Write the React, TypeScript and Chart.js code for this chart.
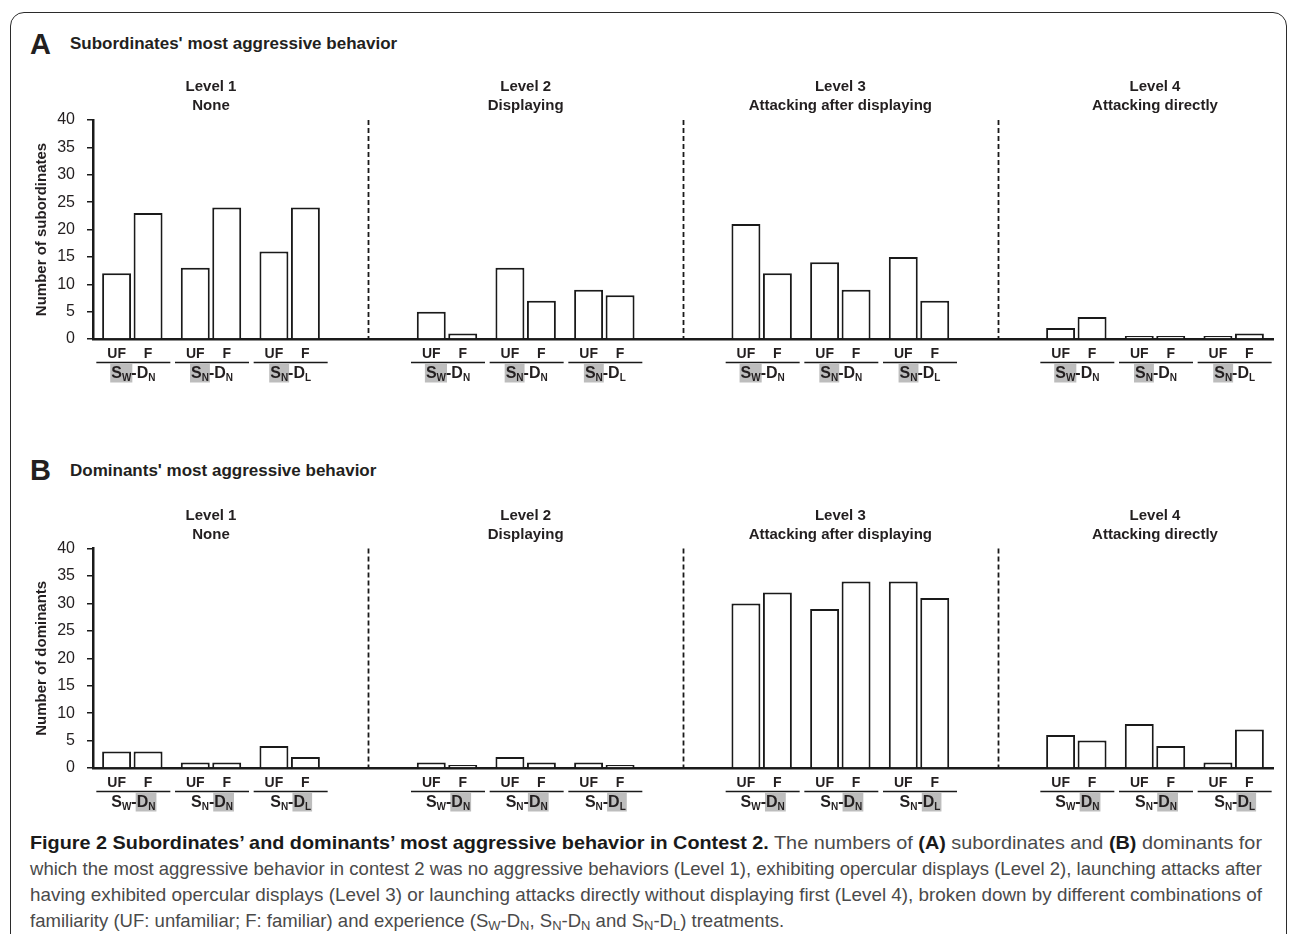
import React, { useEffect, useLayoutEffect, useRef } from 'react';
import { Chart, registerables } from 'chart.js';

Chart.register(...registerables);

// ---------- data ----------
const levelNames = ['Level 1', 'Level 2', 'Level 3', 'Level 4'];
const levelDescs = ['None', 'Displaying', 'Attacking after displaying', 'Attacking directly'];
const familiarityLabels = ['UF', 'F'];
const experienceS = ['W', 'N', 'N'];
const experienceD = ['N', 'N', 'L'];
// order: level 1 (SW-DN, SN-DN, SN-DL), level 2 (...), level 3 (...), level 4 (...)
const subordinatesUF = [12, 13, 16, 5, 13, 9, 21, 14, 15, 2, 0, 0];
const subordinatesF = [23, 24, 24, 1, 7, 8, 12, 9, 7, 4, 0, 1];
const dominantsUF = [3, 1, 4, 1, 2, 1, 30, 29, 34, 6, 8, 1];
const dominantsF = [3, 1, 2, 0, 1, 0, 32, 34, 31, 5, 4, 7];
const yMin = 0;
const yMax = 40;
const yStep = 5;

const FONT = '"Liberation Sans", Arial, Helvetica, sans-serif';
const INK = '#231f20';

// slots: each level has 3 treatment groups, with an empty spacer slot between levels
const slotLabels: string[] = [];
const slotGroup: number[] = [];
levelNames.forEach((_, L) => {
  experienceS.forEach((s, t) => {
    slotLabels.push(`S${s}-D${experienceD[t]}`);
    slotGroup.push(L * experienceS.length + t);
  });
  if (L < levelNames.length - 1) {
    slotLabels.push('');
    slotGroup.push(-1);
  }
});
const expand = (vals: number[]) => slotGroup.map((g) => (g < 0 ? null : vals[g]));

function decorPlugin(highlight: 'S' | 'D') {
  return {
    id: 'panelDecor',
    afterDraw(chart: any) {
      const { ctx, chartArea: a } = chart;
      const x = chart.scales.x;
      const m0 = chart.getDatasetMeta(0);
      const m1 = chart.getDatasetMeta(1);
      ctx.save();
      // dashed separators between levels
      ctx.strokeStyle = '#1a1a1a';
      ctx.lineWidth = 1.8;
      ctx.setLineDash([5, 3]);
      slotGroup.forEach((g, i) => {
        if (g >= 0) return;
        const px = Math.round(x.getPixelForValue(i)) + 0.5;
        ctx.beginPath();
        ctx.moveTo(px, a.top);
        ctx.lineTo(px, a.bottom);
        ctx.stroke();
      });
      ctx.setLineDash([]);
      // level titles
      ctx.fillStyle = INK;
      ctx.textAlign = 'center';
      ctx.textBaseline = 'middle';
      ctx.font = `bold 15px ${FONT}`;
      levelNames.forEach((name, L) => {
        const idx = slotGroup.indexOf(L * experienceS.length + 1);
        const px = x.getPixelForValue(idx);
        ctx.fillText(name, px, a.top - 33);
        ctx.fillText(levelDescs[L], px, a.top - 14);
      });
      // group labels
      slotGroup.forEach((g, i) => {
        if (g < 0) return;
        const t = g % experienceS.length;
        const b0 = m0.data[i];
        const b1 = m1.data[i];
        ctx.textBaseline = 'alphabetic';
        ctx.textAlign = 'center';
        ctx.fillStyle = INK;
        ctx.font = `bold 14px ${FONT}`;
        ctx.fillText(familiarityLabels[0], b0.x, a.bottom + 19);
        ctx.fillText(familiarityLabels[1], b1.x, a.bottom + 19);
        const cx = x.getPixelForValue(i);
        ctx.strokeStyle = '#1a1a1a';
        ctx.lineWidth = 1.3;
        ctx.beginPath();
        ctx.moveTo(cx - 36, a.bottom + 23.5);
        ctx.lineTo(cx + 38, a.bottom + 23.5);
        ctx.stroke();
        const segs = [
          { text: 'S', sub: false, hl: highlight === 'S' },
          { text: experienceS[t], sub: true, hl: highlight === 'S' },
          { text: '-', sub: false, hl: false },
          { text: 'D', sub: false, hl: highlight === 'D' },
          { text: experienceD[t], sub: true, hl: highlight === 'D' },
        ];
        const fontFor = (sub: boolean) => (sub ? `bold 10px ${FONT}` : `bold 16px ${FONT}`);
        const widths = segs.map((s) => {
          ctx.font = fontFor(s.sub);
          return ctx.measureText(s.text).width;
        });
        const total = widths.reduce((p, c) => p + c, 0);
        let sx = cx + 1 - total / 2;
        // highlight box
        let hx0 = Infinity;
        let hx1 = -Infinity;
        let cur = sx;
        segs.forEach((s, k) => {
          if (s.hl) {
            hx0 = Math.min(hx0, cur);
            hx1 = Math.max(hx1, cur + widths[k]);
          }
          cur += widths[k];
        });
        ctx.fillStyle = '#bdbdbd';
        ctx.fillRect(hx0 - 1, a.bottom + 24.5, hx1 - hx0 + 2, 19);
        ctx.fillStyle = INK;
        ctx.textAlign = 'left';
        segs.forEach((s, k) => {
          ctx.font = fontFor(s.sub);
          ctx.fillText(s.text, sx, a.bottom + (s.sub ? 42 : 39));
          sx += widths[k];
        });
      });
      ctx.restore();
    },
  };
}

type PanelProps = {
  top: number;
  height: number;
  padTop: number;
  axisH: number;
  uf: number[];
  f: number[];
  yTitle: string;
  highlight: 'S' | 'D';
};

function Panel({ top, height, padTop, axisH, uf, f, yTitle, highlight }: PanelProps) {
  const ref = useRef<HTMLCanvasElement>(null);
  useEffect(() => {
    const barStyle = {
      backgroundColor: '#ffffff',
      borderColor: '#1a1a1a',
      borderWidth: 2,
      borderSkipped: 'start' as const,
      categoryPercentage: 0.8,
      barPercentage: 0.92,
      minBarLength: 3,
      clip: 0,
    };
    const chart = new Chart(ref.current as HTMLCanvasElement, {
      type: 'bar',
      data: {
        labels: slotLabels,
        datasets: [
          { label: familiarityLabels[0], data: expand(uf), ...barStyle },
          { label: familiarityLabels[1], data: expand(f), ...barStyle },
        ],
      },
      options: {
        responsive: false,
        animation: false,
        layout: { padding: { top: padTop, right: 17, bottom: 0, left: 0 } },
        plugins: {
          legend: { display: false },
          tooltip: { enabled: false },
          title: { display: false },
        },
        scales: {
          x: {
            offset: true,
            ticks: { display: false },
            grid: { display: false, drawTicks: false },
            border: { display: true, width: 2.5, color: '#1a1a1a' },
            afterFit: (s: any) => {
              s.height = axisH;
            },
          },
          y: {
            min: yMin,
            max: yMax,
            ticks: {
              stepSize: yStep,
              padding: 12,
              color: INK,
              font: { family: FONT, size: 16 },
            },
            grid: {
              drawOnChartArea: false,
              drawTicks: true,
              tickLength: 6,
              color: '#1a1a1a',
              lineWidth: 1.5,
            },
            border: { display: true, width: 2.5, color: '#1a1a1a' },
            title: {
              display: true,
              text: yTitle,
              color: INK,
              font: { family: FONT, size: 15, weight: 'bold' },
              padding: { top: 33, bottom: 0 },
            },
            afterFit: (s: any) => {
              s.width = 93;
            },
          },
        },
      } as any,
      plugins: [decorPlugin(highlight)],
    });
    return () => chart.destroy();
  }, []);
  return (
    <canvas
      ref={ref}
      width={1290}
      height={height}
      style={{ position: 'absolute', left: 0, top, width: 1290, height, display: 'block' }}
    />
  );
}

const capBold: React.CSSProperties = { fontWeight: 'bold', color: '#1a1a1a' };
const sub: React.CSSProperties = { fontSize: '0.7em', verticalAlign: '-0.25em', lineHeight: 0 };

export default function App() {
  const capRefs = useRef<(HTMLSpanElement | null)[]>([]);
  useLayoutEffect(() => {
    const els = capRefs.current;
    const target = 1232;
    const w2 = els[1] ? els[1].getBoundingClientRect().width : target;
    const k2 = target / w2;
    els.forEach((el, i) => {
      if (!el) return;
      const w = el.getBoundingClientRect().width;
      const k = i < 3 ? target / w : k2;
      el.style.transformOrigin = '0 0';
      el.style.transform = `scaleX(${k})`;
    });
  }, []);
  const lineStyle: React.CSSProperties = {
    position: 'absolute',
    left: 30,
    display: 'inline-block',
    whiteSpace: 'nowrap',
    fontFamily: FONT,
    fontSize: 19,
    lineHeight: '26px',
    color: '#4a4a4a',
  };
  const setRef = (i: number) => (el: HTMLSpanElement | null) => {
    capRefs.current[i] = el;
  };
  return (
    <div
      style={{
        position: 'absolute',
        left: 0,
        top: 0,
        width: 1290,
        height: 934,
        overflow: 'hidden',
        background: '#fff',
      }}
    >
      <div
        style={{
          position: 'absolute',
          left: 10,
          top: 12,
          width: 1277,
          height: 940,
          border: '1.5px solid #2b2b2b',
          borderRadius: 14,
          boxSizing: 'border-box',
        }}
      />
      <div style={{ position: 'absolute', left: 30, top: 26, font: `bold 29px ${FONT}`, color: INK, lineHeight: '36px' }}>A</div>
      <div style={{ position: 'absolute', left: 70, top: 34, font: `bold 17px ${FONT}`, color: INK, lineHeight: '20px', whiteSpace: 'nowrap' }}>
        Subordinates' most aggressive behavior
      </div>
      <div style={{ position: 'absolute', left: 30, top: 452, font: `bold 29px ${FONT}`, color: INK, lineHeight: '36px' }}>B</div>
      <div style={{ position: 'absolute', left: 70, top: 461, font: `bold 17px ${FONT}`, color: INK, lineHeight: '20px', whiteSpace: 'nowrap' }}>
        Dominants' most aggressive behavior
      </div>
      <Panel top={60} height={340} padTop={60} axisH={61} uf={subordinatesUF} f={subordinatesF} yTitle="Number of subordinates" highlight="S" />
      <Panel top={490} height={340} padTop={58.6} axisH={62} uf={dominantsUF} f={dominantsF} yTitle="Number of dominants" highlight="D" />
      <span ref={setRef(0)} style={{ ...lineStyle, top: 830 }}>
        <span style={capBold}>Figure 2 Subordinates’ and dominants’ most aggressive behavior in Contest 2.</span> The numbers of{' '}
        <span style={capBold}>(A)</span> subordinates and <span style={capBold}>(B)</span> dominants for
      </span>
      <span ref={setRef(1)} style={{ ...lineStyle, top: 856 }}>
        which the most aggressive behavior in contest 2 was no aggressive behaviors (Level 1), exhibiting opercular displays (Level 2), launching attacks after
      </span>
      <span ref={setRef(2)} style={{ ...lineStyle, top: 882 }}>
        having exhibited opercular displays (Level 3) or launching attacks directly without displaying first (Level 4), broken down by different combinations of
      </span>
      <span ref={setRef(3)} style={{ ...lineStyle, top: 908 }}>
        familiarity (UF: unfamiliar; F: familiar) and experience (S<sub style={sub}>W</sub>-D<sub style={sub}>N</sub>, S<sub style={sub}>N</sub>-D
        <sub style={sub}>N</sub> and S<sub style={sub}>N</sub>-D<sub style={sub}>L</sub>) treatments.
      </span>
    </div>
  );
}
